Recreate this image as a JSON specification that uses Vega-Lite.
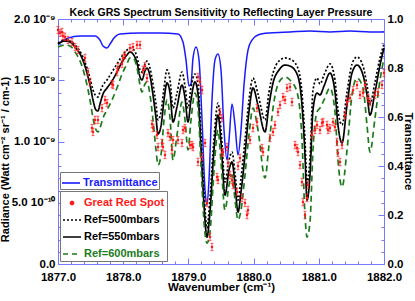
{
  "$schema": "https://vega.github.io/schema/vega-lite/v6.json",
  "width": 326,
  "height": 245,
  "autosize": "none",
  "padding": {"left": 58, "top": 19, "right": 31, "bottom": 37},
  "background": "white",
  "config": {
    "font": "Liberation Sans",
    "view": {"stroke": null},
    "axis": {
      "domainColor": "#7878ff", "tickColor": "#7878ff", "domainWidth": 1, "tickWidth": 1,
      "labelFont": "Liberation Sans", "labelFontWeight": "bold", "labelFontSize": 11.5, "labelColor": "black",
      "titleFont": "Liberation Sans", "titleFontWeight": "bold", "titleFontSize": 11.5, "titleColor": "black",
      "grid": false, "labelFlush": false, "labelOverlap": false, "labelBound": false
    }
  },
  "title": {"text": "Keck GRS Spectrum Sensitivity to Reflecting Layer Pressure", "font": "Liberation Sans", "fontSize": 10.5, "fontWeight": "bold", "color": "black", "offset": -5},
  "datasets": {
    "trans": [
      {"wn": 1877.000, "T": 0.898}, {"wn": 1877.153, "T": 0.922}, {"wn": 1877.337, "T": 0.931}, {"wn": 1877.567, "T": 0.931},
      {"wn": 1877.644, "T": 0.914}, {"wn": 1877.690, "T": 0.890}, {"wn": 1877.752, "T": 0.882}, {"wn": 1877.798, "T": 0.898},
      {"wn": 1877.859, "T": 0.922}, {"wn": 1877.951, "T": 0.939}, {"wn": 1878.258, "T": 0.943}, {"wn": 1878.565, "T": 0.943},
      {"wn": 1878.840, "T": 0.939}, {"wn": 1878.917, "T": 0.906}, {"wn": 1878.963, "T": 0.833}, {"wn": 1879.009, "T": 0.727},
      {"wn": 1879.040, "T": 0.735}, {"wn": 1879.071, "T": 0.841}, {"wn": 1879.117, "T": 0.886}, {"wn": 1879.163, "T": 0.833},
      {"wn": 1879.209, "T": 0.588}, {"wn": 1879.255, "T": 0.302}, {"wn": 1879.285, "T": 0.241}, {"wn": 1879.316, "T": 0.343},
      {"wn": 1879.362, "T": 0.669}, {"wn": 1879.408, "T": 0.833}, {"wn": 1879.454, "T": 0.857}, {"wn": 1879.500, "T": 0.792},
      {"wn": 1879.546, "T": 0.547}, {"wn": 1879.592, "T": 0.424}, {"wn": 1879.623, "T": 0.506}, {"wn": 1879.669, "T": 0.653},
      {"wn": 1879.715, "T": 0.567}, {"wn": 1879.761, "T": 0.445}, {"wn": 1879.807, "T": 0.547}, {"wn": 1879.853, "T": 0.731},
      {"wn": 1879.914, "T": 0.873}, {"wn": 1879.975, "T": 0.914}, {"wn": 1880.067, "T": 0.935}, {"wn": 1880.252, "T": 0.943},
      {"wn": 1880.558, "T": 0.947}, {"wn": 1880.865, "T": 0.951}, {"wn": 1881.172, "T": 0.947}, {"wn": 1881.479, "T": 0.951},
      {"wn": 1881.785, "T": 0.947}, {"wn": 1882.000, "T": 0.947}
    ],
    "models": [
      {"wn": 1877.000, "Ref=500mbars": 1.804e-9, "Ref=550mbars": 1.796e-9, "Ref=600mbars": 1.771e-9},
      {"wn": 1877.107, "Ref=500mbars": 1.829e-9, "Ref=550mbars": 1.820e-9, "Ref=600mbars": 1.788e-9},
      {"wn": 1877.184, "Ref=500mbars": 1.820e-9, "Ref=550mbars": 1.812e-9, "Ref=600mbars": 1.780e-9},
      {"wn": 1877.261, "Ref=500mbars": 1.788e-9, "Ref=550mbars": 1.771e-9, "Ref=600mbars": 1.731e-9},
      {"wn": 1877.368, "Ref=500mbars": 1.706e-9, "Ref=550mbars": 1.682e-9, "Ref=600mbars": 1.616e-9},
      {"wn": 1877.445, "Ref=500mbars": 1.600e-9, "Ref=550mbars": 1.559e-9, "Ref=600mbars": 1.461e-9},
      {"wn": 1877.491, "Ref=500mbars": 1.518e-9, "Ref=550mbars": 1.461e-9, "Ref=600mbars": 1.339e-9},
      {"wn": 1877.537, "Ref=500mbars": 1.420e-9, "Ref=550mbars": 1.339e-9, "Ref=600mbars": 1.192e-9},
      {"wn": 1877.583, "Ref=500mbars": 1.371e-9, "Ref=550mbars": 1.257e-9, "Ref=600mbars": 1.094e-9},
      {"wn": 1877.613, "Ref=500mbars": 1.363e-9, "Ref=550mbars": 1.249e-9, "Ref=600mbars": 1.078e-9},
      {"wn": 1877.644, "Ref=500mbars": 1.404e-9, "Ref=550mbars": 1.306e-9, "Ref=600mbars": 1.110e-9},
      {"wn": 1877.690, "Ref=500mbars": 1.461e-9, "Ref=550mbars": 1.388e-9, "Ref=600mbars": 1.192e-9},
      {"wn": 1877.752, "Ref=500mbars": 1.502e-9, "Ref=550mbars": 1.437e-9, "Ref=600mbars": 1.257e-9},
      {"wn": 1877.828, "Ref=500mbars": 1.567e-9, "Ref=550mbars": 1.494e-9, "Ref=600mbars": 1.339e-9},
      {"wn": 1877.905, "Ref=500mbars": 1.633e-9, "Ref=550mbars": 1.567e-9, "Ref=600mbars": 1.437e-9},
      {"wn": 1877.982, "Ref=500mbars": 1.698e-9, "Ref=550mbars": 1.649e-9, "Ref=600mbars": 1.551e-9},
      {"wn": 1878.058, "Ref=500mbars": 1.747e-9, "Ref=550mbars": 1.706e-9, "Ref=600mbars": 1.633e-9},
      {"wn": 1878.104, "Ref=500mbars": 1.763e-9, "Ref=550mbars": 1.731e-9, "Ref=600mbars": 1.682e-9},
      {"wn": 1878.150, "Ref=500mbars": 1.755e-9, "Ref=550mbars": 1.714e-9, "Ref=600mbars": 1.682e-9},
      {"wn": 1878.212, "Ref=500mbars": 1.690e-9, "Ref=550mbars": 1.641e-9, "Ref=600mbars": 1.600e-9},
      {"wn": 1878.258, "Ref=500mbars": 1.584e-9, "Ref=550mbars": 1.527e-9, "Ref=600mbars": 1.461e-9},
      {"wn": 1878.288, "Ref=500mbars": 1.567e-9, "Ref=550mbars": 1.502e-9, "Ref=600mbars": 1.404e-9},
      {"wn": 1878.334, "Ref=500mbars": 1.633e-9, "Ref=550mbars": 1.576e-9, "Ref=600mbars": 1.469e-9},
      {"wn": 1878.365, "Ref=500mbars": 1.657e-9, "Ref=550mbars": 1.600e-9, "Ref=600mbars": 1.486e-9},
      {"wn": 1878.411, "Ref=500mbars": 1.600e-9, "Ref=550mbars": 1.535e-9, "Ref=600mbars": 1.380e-9},
      {"wn": 1878.457, "Ref=500mbars": 1.469e-9, "Ref=550mbars": 1.380e-9, "Ref=600mbars": 1.176e-9},
      {"wn": 1878.503, "Ref=500mbars": 1.306e-9, "Ref=550mbars": 1.192e-9, "Ref=600mbars": 0.931e-9},
      {"wn": 1878.534, "Ref=500mbars": 1.176e-9, "Ref=550mbars": 1.061e-9, "Ref=600mbars": 0.808e-9},
      {"wn": 1878.580, "Ref=500mbars": 1.241e-9, "Ref=550mbars": 1.127e-9, "Ref=600mbars": 0.890e-9},
      {"wn": 1878.626, "Ref=500mbars": 1.437e-9, "Ref=550mbars": 1.339e-9, "Ref=600mbars": 1.176e-9},
      {"wn": 1878.672, "Ref=500mbars": 1.584e-9, "Ref=550mbars": 1.478e-9, "Ref=600mbars": 1.339e-9},
      {"wn": 1878.718, "Ref=500mbars": 1.502e-9, "Ref=550mbars": 1.396e-9, "Ref=600mbars": 1.192e-9},
      {"wn": 1878.764, "Ref=500mbars": 1.273e-9, "Ref=550mbars": 1.159e-9, "Ref=600mbars": 0.849e-9},
      {"wn": 1878.825, "Ref=500mbars": 1.396e-9, "Ref=550mbars": 1.282e-9, "Ref=600mbars": 1.053e-9},
      {"wn": 1878.902, "Ref=500mbars": 1.567e-9, "Ref=550mbars": 1.461e-9, "Ref=600mbars": 1.322e-9},
      {"wn": 1878.948, "Ref=500mbars": 1.453e-9, "Ref=550mbars": 1.355e-9, "Ref=600mbars": 1.176e-9},
      {"wn": 1878.994, "Ref=500mbars": 1.273e-9, "Ref=550mbars": 1.159e-9, "Ref=600mbars": 0.931e-9},
      {"wn": 1879.040, "Ref=500mbars": 1.445e-9, "Ref=550mbars": 1.339e-9, "Ref=600mbars": 1.176e-9},
      {"wn": 1879.101, "Ref=500mbars": 1.551e-9, "Ref=550mbars": 1.486e-9, "Ref=600mbars": 1.396e-9},
      {"wn": 1879.147, "Ref=500mbars": 1.469e-9, "Ref=550mbars": 1.388e-9, "Ref=600mbars": 1.273e-9},
      {"wn": 1879.193, "Ref=500mbars": 1.053e-9, "Ref=550mbars": 0.947e-9, "Ref=600mbars": 0.808e-9},
      {"wn": 1879.239, "Ref=500mbars": 0.588e-9, "Ref=550mbars": 0.482e-9, "Ref=600mbars": 0.343e-9},
      {"wn": 1879.285, "Ref=500mbars": 0.294e-9, "Ref=550mbars": 0.220e-9, "Ref=600mbars": 0.171e-9},
      {"wn": 1879.331, "Ref=500mbars": 0.539e-9, "Ref=550mbars": 0.424e-9, "Ref=600mbars": 0.261e-9},
      {"wn": 1879.393, "Ref=500mbars": 1.029e-9, "Ref=550mbars": 0.931e-9, "Ref=600mbars": 0.767e-9},
      {"wn": 1879.454, "Ref=500mbars": 1.314e-9, "Ref=550mbars": 1.216e-9, "Ref=600mbars": 1.094e-9},
      {"wn": 1879.500, "Ref=500mbars": 1.094e-9, "Ref=550mbars": 0.996e-9, "Ref=600mbars": 0.833e-9},
      {"wn": 1879.561, "Ref=500mbars": 0.669e-9, "Ref=550mbars": 0.563e-9, "Ref=600mbars": 0.441e-9},
      {"wn": 1879.623, "Ref=500mbars": 0.849e-9, "Ref=550mbars": 0.767e-9, "Ref=600mbars": 0.645e-9},
      {"wn": 1879.669, "Ref=500mbars": 0.914e-9, "Ref=550mbars": 0.833e-9, "Ref=600mbars": 0.727e-9},
      {"wn": 1879.715, "Ref=500mbars": 0.743e-9, "Ref=550mbars": 0.645e-9, "Ref=600mbars": 0.522e-9},
      {"wn": 1879.761, "Ref=500mbars": 0.522e-9, "Ref=550mbars": 0.424e-9, "Ref=600mbars": 0.359e-9},
      {"wn": 1879.807, "Ref=500mbars": 0.702e-9, "Ref=550mbars": 0.588e-9, "Ref=600mbars": 0.441e-9},
      {"wn": 1879.868, "Ref=500mbars": 1.012e-9, "Ref=550mbars": 0.890e-9, "Ref=600mbars": 0.727e-9},
      {"wn": 1879.929, "Ref=500mbars": 1.339e-9, "Ref=550mbars": 1.241e-9, "Ref=600mbars": 1.053e-9},
      {"wn": 1879.991, "Ref=500mbars": 1.518e-9, "Ref=550mbars": 1.437e-9, "Ref=600mbars": 1.273e-9},
      {"wn": 1880.067, "Ref=500mbars": 1.388e-9, "Ref=550mbars": 1.298e-9, "Ref=600mbars": 1.094e-9},
      {"wn": 1880.175, "Ref=500mbars": 1.176e-9, "Ref=550mbars": 1.078e-9, "Ref=600mbars": 0.702e-9},
      {"wn": 1880.236, "Ref=500mbars": 1.404e-9, "Ref=550mbars": 1.298e-9, "Ref=600mbars": 0.971e-9},
      {"wn": 1880.298, "Ref=500mbars": 1.559e-9, "Ref=550mbars": 1.478e-9, "Ref=600mbars": 1.273e-9},
      {"wn": 1880.390, "Ref=500mbars": 1.657e-9, "Ref=550mbars": 1.584e-9, "Ref=600mbars": 1.486e-9},
      {"wn": 1880.482, "Ref=500mbars": 1.682e-9, "Ref=550mbars": 1.624e-9, "Ref=600mbars": 1.527e-9},
      {"wn": 1880.558, "Ref=500mbars": 1.673e-9, "Ref=550mbars": 1.616e-9, "Ref=600mbars": 1.502e-9},
      {"wn": 1880.666, "Ref=500mbars": 1.616e-9, "Ref=550mbars": 1.551e-9, "Ref=600mbars": 1.404e-9},
      {"wn": 1880.742, "Ref=500mbars": 1.396e-9, "Ref=550mbars": 1.298e-9, "Ref=600mbars": 1.012e-9},
      {"wn": 1880.788, "Ref=500mbars": 1.012e-9, "Ref=550mbars": 0.890e-9, "Ref=600mbars": 0.400e-9},
      {"wn": 1880.819, "Ref=500mbars": 0.661e-9, "Ref=550mbars": 0.522e-9, "Ref=600mbars": 0.220e-9},
      {"wn": 1880.865, "Ref=500mbars": 0.865e-9, "Ref=550mbars": 0.727e-9, "Ref=600mbars": 0.343e-9},
      {"wn": 1880.911, "Ref=500mbars": 1.420e-9, "Ref=550mbars": 1.257e-9, "Ref=600mbars": 0.931e-9},
      {"wn": 1880.972, "Ref=500mbars": 1.518e-9, "Ref=550mbars": 1.396e-9, "Ref=600mbars": 1.241e-9},
      {"wn": 1881.018, "Ref=500mbars": 1.469e-9, "Ref=550mbars": 1.380e-9, "Ref=600mbars": 1.273e-9},
      {"wn": 1881.080, "Ref=500mbars": 1.543e-9, "Ref=550mbars": 1.453e-9, "Ref=600mbars": 1.339e-9},
      {"wn": 1881.172, "Ref=500mbars": 1.633e-9, "Ref=550mbars": 1.559e-9, "Ref=600mbars": 1.437e-9},
      {"wn": 1881.248, "Ref=500mbars": 1.502e-9, "Ref=550mbars": 1.404e-9, "Ref=600mbars": 1.241e-9},
      {"wn": 1881.294, "Ref=500mbars": 1.257e-9, "Ref=550mbars": 1.135e-9, "Ref=600mbars": 0.849e-9},
      {"wn": 1881.356, "Ref=500mbars": 1.135e-9, "Ref=550mbars": 0.988e-9, "Ref=600mbars": 0.629e-9},
      {"wn": 1881.433, "Ref=500mbars": 1.404e-9, "Ref=550mbars": 1.298e-9, "Ref=600mbars": 0.931e-9},
      {"wn": 1881.509, "Ref=500mbars": 1.633e-9, "Ref=550mbars": 1.559e-9, "Ref=600mbars": 1.380e-9},
      {"wn": 1881.586, "Ref=500mbars": 1.690e-9, "Ref=550mbars": 1.624e-9, "Ref=600mbars": 1.518e-9},
      {"wn": 1881.678, "Ref=500mbars": 1.616e-9, "Ref=550mbars": 1.543e-9, "Ref=600mbars": 1.437e-9},
      {"wn": 1881.739, "Ref=500mbars": 1.461e-9, "Ref=550mbars": 1.380e-9, "Ref=600mbars": 1.135e-9},
      {"wn": 1881.785, "Ref=500mbars": 1.306e-9, "Ref=550mbars": 1.216e-9, "Ref=600mbars": 0.914e-9},
      {"wn": 1881.862, "Ref=500mbars": 1.486e-9, "Ref=550mbars": 1.404e-9, "Ref=600mbars": 1.192e-9},
      {"wn": 1881.939, "Ref=500mbars": 1.682e-9, "Ref=550mbars": 1.624e-9, "Ref=600mbars": 1.502e-9},
      {"wn": 1882.000, "Ref=500mbars": 1.796e-9, "Ref=550mbars": 1.763e-9, "Ref=600mbars": 1.682e-9}
    ],
    "grs": [
      {"wn": 1877.000, "rad": 1.910e-9, "err": 0.03e-9}, {"wn": 1877.031, "rad": 1.886e-9, "err": 0.03e-9},
      {"wn": 1877.061, "rad": 1.894e-9, "err": 0.03e-9}, {"wn": 1877.077, "rad": 1.861e-9, "err": 0.03e-9},
      {"wn": 1877.107, "rad": 1.853e-9, "err": 0.03e-9}, {"wn": 1877.153, "rad": 1.829e-9, "err": 0.03e-9},
      {"wn": 1877.215, "rad": 1.812e-9, "err": 0.03e-9}, {"wn": 1877.261, "rad": 1.771e-9, "err": 0.03e-9},
      {"wn": 1877.307, "rad": 1.747e-9, "err": 0.03e-9}, {"wn": 1877.414, "rad": 1.682e-9, "err": 0.03e-9},
      {"wn": 1877.460, "rad": 1.567e-9, "err": 0.03e-9}, {"wn": 1877.491, "rad": 1.486e-9, "err": 0.03e-9},
      {"wn": 1877.521, "rad": 1.110e-9, "err": 0.03e-9}, {"wn": 1877.537, "rad": 1.078e-9, "err": 0.03e-9},
      {"wn": 1877.567, "rad": 1.176e-9, "err": 0.03e-9}, {"wn": 1877.613, "rad": 1.176e-9, "err": 0.03e-9},
      {"wn": 1877.675, "rad": 1.273e-9, "err": 0.03e-9}, {"wn": 1877.721, "rad": 1.339e-9, "err": 0.03e-9},
      {"wn": 1877.752, "rad": 1.314e-9, "err": 0.03e-9}, {"wn": 1877.828, "rad": 1.469e-9, "err": 0.03e-9},
      {"wn": 1877.844, "rad": 1.461e-9, "err": 0.03e-9}, {"wn": 1877.905, "rad": 1.567e-9, "err": 0.03e-9},
      {"wn": 1877.920, "rad": 1.608e-9, "err": 0.03e-9}, {"wn": 1877.982, "rad": 1.633e-9, "err": 0.03e-9},
      {"wn": 1877.997, "rad": 1.682e-9, "err": 0.03e-9}, {"wn": 1878.028, "rad": 1.706e-9, "err": 0.03e-9},
      {"wn": 1878.104, "rad": 1.763e-9, "err": 0.03e-9}, {"wn": 1878.150, "rad": 1.771e-9, "err": 0.03e-9},
      {"wn": 1878.212, "rad": 1.788e-9, "err": 0.03e-9}, {"wn": 1878.258, "rad": 1.788e-9, "err": 0.03e-9},
      {"wn": 1878.304, "rad": 1.584e-9, "err": 0.03e-9}, {"wn": 1878.334, "rad": 1.616e-9, "err": 0.03e-9},
      {"wn": 1878.365, "rad": 1.518e-9, "err": 0.03e-9}, {"wn": 1878.442, "rad": 1.143e-9, "err": 0.03e-9},
      {"wn": 1878.457, "rad": 1.110e-9, "err": 0.03e-9}, {"wn": 1878.518, "rad": 1.053e-9, "err": 0.03e-9},
      {"wn": 1878.534, "rad": 0.955e-9, "err": 0.03e-9}, {"wn": 1878.595, "rad": 0.988e-9, "err": 0.03e-9},
      {"wn": 1878.610, "rad": 0.955e-9, "err": 0.03e-9}, {"wn": 1878.641, "rad": 0.890e-9, "err": 0.03e-9},
      {"wn": 1878.687, "rad": 1.069e-9, "err": 0.03e-9}, {"wn": 1878.718, "rad": 1.037e-9, "err": 0.03e-9},
      {"wn": 1878.748, "rad": 0.931e-9, "err": 0.03e-9}, {"wn": 1878.764, "rad": 1.012e-9, "err": 0.03e-9},
      {"wn": 1878.840, "rad": 1.012e-9, "err": 0.03e-9}, {"wn": 1878.902, "rad": 0.988e-9, "err": 0.03e-9},
      {"wn": 1878.917, "rad": 1.094e-9, "err": 0.03e-9}, {"wn": 1878.948, "rad": 1.110e-9, "err": 0.03e-9},
      {"wn": 1879.025, "rad": 0.971e-9, "err": 0.03e-9}, {"wn": 1879.055, "rad": 0.971e-9, "err": 0.03e-9},
      {"wn": 1879.071, "rad": 0.955e-9, "err": 0.03e-9}, {"wn": 1879.147, "rad": 1.527e-9, "err": 0.03e-9},
      {"wn": 1879.178, "rad": 1.486e-9, "err": 0.03e-9}, {"wn": 1879.209, "rad": 1.420e-9, "err": 0.03e-9},
      {"wn": 1879.147, "rad": 0.833e-9, "err": 0.03e-9}, {"wn": 1879.209, "rad": 0.873e-9, "err": 0.03e-9},
      {"wn": 1879.255, "rad": 0.988e-9, "err": 0.03e-9}, {"wn": 1879.285, "rad": 0.498e-9, "err": 0.03e-9},
      {"wn": 1879.331, "rad": 0.220e-9, "err": 0.03e-9}, {"wn": 1879.362, "rad": 0.139e-9, "err": 0.03e-9},
      {"wn": 1879.439, "rad": 0.710e-9, "err": 0.03e-9}, {"wn": 1879.454, "rad": 0.686e-9, "err": 0.03e-9},
      {"wn": 1879.485, "rad": 1.241e-9, "err": 0.03e-9}, {"wn": 1879.515, "rad": 1.192e-9, "err": 0.03e-9},
      {"wn": 1879.515, "rad": 0.906e-9, "err": 0.03e-9}, {"wn": 1879.531, "rad": 0.914e-9, "err": 0.03e-9},
      {"wn": 1879.592, "rad": 0.955e-9, "err": 0.03e-9}, {"wn": 1879.607, "rad": 0.824e-9, "err": 0.03e-9},
      {"wn": 1879.638, "rad": 0.727e-9, "err": 0.03e-9}, {"wn": 1879.669, "rad": 0.686e-9, "err": 0.03e-9},
      {"wn": 1879.684, "rad": 0.645e-9, "err": 0.03e-9}, {"wn": 1879.745, "rad": 0.588e-9, "err": 0.03e-9},
      {"wn": 1879.761, "rad": 0.800e-9, "err": 0.03e-9}, {"wn": 1879.791, "rad": 0.865e-9, "err": 0.03e-9},
      {"wn": 1879.822, "rad": 0.539e-9, "err": 0.03e-9}, {"wn": 1879.868, "rad": 0.498e-9, "err": 0.03e-9},
      {"wn": 1879.899, "rad": 0.400e-9, "err": 0.03e-9}, {"wn": 1879.914, "rad": 0.441e-9, "err": 0.03e-9},
      {"wn": 1879.945, "rad": 1.012e-9, "err": 0.03e-9}, {"wn": 1879.991, "rad": 1.110e-9, "err": 0.03e-9},
      {"wn": 1880.052, "rad": 1.159e-9, "err": 0.03e-9}, {"wn": 1880.052, "rad": 1.273e-9, "err": 0.03e-9},
      {"wn": 1880.129, "rad": 0.947e-9, "err": 0.03e-9}, {"wn": 1880.144, "rad": 0.914e-9, "err": 0.03e-9},
      {"wn": 1880.252, "rad": 1.029e-9, "err": 0.03e-9}, {"wn": 1880.298, "rad": 1.078e-9, "err": 0.03e-9},
      {"wn": 1880.328, "rad": 1.135e-9, "err": 0.03e-9}, {"wn": 1880.374, "rad": 1.241e-9, "err": 0.03e-9},
      {"wn": 1880.405, "rad": 1.298e-9, "err": 0.03e-9}, {"wn": 1880.451, "rad": 1.363e-9, "err": 0.03e-9},
      {"wn": 1880.482, "rad": 1.339e-9, "err": 0.03e-9}, {"wn": 1880.512, "rad": 1.437e-9, "err": 0.03e-9},
      {"wn": 1880.558, "rad": 1.445e-9, "err": 0.03e-9}, {"wn": 1880.589, "rad": 1.322e-9, "err": 0.03e-9},
      {"wn": 1880.635, "rad": 0.971e-9, "err": 0.03e-9}, {"wn": 1880.666, "rad": 0.947e-9, "err": 0.03e-9},
      {"wn": 1880.681, "rad": 0.914e-9, "err": 0.03e-9}, {"wn": 1880.712, "rad": 0.808e-9, "err": 0.03e-9},
      {"wn": 1880.742, "rad": 0.669e-9, "err": 0.03e-9}, {"wn": 1880.758, "rad": 0.506e-9, "err": 0.03e-9},
      {"wn": 1880.788, "rad": 0.400e-9, "err": 0.03e-9}, {"wn": 1880.819, "rad": 0.539e-9, "err": 0.03e-9},
      {"wn": 1880.834, "rad": 0.645e-9, "err": 0.03e-9}, {"wn": 1880.896, "rad": 1.053e-9, "err": 0.03e-9},
      {"wn": 1880.942, "rad": 1.094e-9, "err": 0.03e-9}, {"wn": 1880.972, "rad": 1.135e-9, "err": 0.03e-9},
      {"wn": 1881.018, "rad": 1.094e-9, "err": 0.03e-9}, {"wn": 1881.049, "rad": 1.151e-9, "err": 0.03e-9},
      {"wn": 1881.064, "rad": 1.159e-9, "err": 0.03e-9}, {"wn": 1881.126, "rad": 1.135e-9, "err": 0.03e-9},
      {"wn": 1881.141, "rad": 1.094e-9, "err": 0.03e-9}, {"wn": 1881.172, "rad": 1.110e-9, "err": 0.03e-9},
      {"wn": 1881.218, "rad": 1.159e-9, "err": 0.03e-9}, {"wn": 1881.248, "rad": 1.118e-9, "err": 0.03e-9},
      {"wn": 1881.279, "rad": 0.996e-9, "err": 0.03e-9}, {"wn": 1881.294, "rad": 0.906e-9, "err": 0.03e-9},
      {"wn": 1881.325, "rad": 0.833e-9, "err": 0.03e-9}, {"wn": 1881.356, "rad": 0.971e-9, "err": 0.03e-9},
      {"wn": 1881.402, "rad": 1.216e-9, "err": 0.03e-9}, {"wn": 1881.433, "rad": 1.322e-9, "err": 0.03e-9},
      {"wn": 1881.479, "rad": 1.355e-9, "err": 0.03e-9}, {"wn": 1881.525, "rad": 1.420e-9, "err": 0.03e-9},
      {"wn": 1881.586, "rad": 1.461e-9, "err": 0.03e-9}, {"wn": 1881.632, "rad": 1.380e-9, "err": 0.03e-9},
      {"wn": 1881.678, "rad": 1.396e-9, "err": 0.03e-9}, {"wn": 1881.709, "rad": 1.461e-9, "err": 0.03e-9},
      {"wn": 1881.755, "rad": 1.355e-9, "err": 0.03e-9}, {"wn": 1881.785, "rad": 1.322e-9, "err": 0.03e-9},
      {"wn": 1881.862, "rad": 1.380e-9, "err": 0.03e-9}, {"wn": 1881.908, "rad": 1.404e-9, "err": 0.03e-9},
      {"wn": 1881.969, "rad": 1.461e-9, "err": 0.03e-9}, {"wn": 1882.000, "rad": 1.559e-9, "err": 0.03e-9}
    ]
  },
  "layer": [
    {
      "data": {"name": "trans"},
      "mark": {"type": "line", "strokeWidth": 1.5, "interpolate": "monotone"},
      "encoding": {
        "x": {"field": "wn", "type": "quantitative", "scale": {"domain": [1877, 1882], "nice": false, "zero": false},
          "axis": {"orient": "top", "labels": false, "title": null, "labelOverlap": false,
            "values": [1877, 1877.2, 1877.4, 1877.6, 1877.8, 1878, 1878.2, 1878.4, 1878.6, 1878.8, 1879, 1879.2, 1879.4, 1879.6, 1879.8, 1880, 1880.2, 1880.4, 1880.6, 1880.8, 1881, 1881.2, 1881.4, 1881.6, 1881.8, 1882],
            "tickSize": {"condition": {"test": "abs(datum.value - round(datum.value)) < 1e-6", "value": -6}, "value": -3}}},
        "y": {"field": "T", "type": "quantitative", "scale": {"domain": [0, 1], "nice": false},
          "axis": {"orient": "right", "title": "Transmittance", "titlePadding": 0, "titleY": 132, "labelOverlap": false,
            "values": [0, 0.05, 0.1, 0.15, 0.2, 0.25, 0.3, 0.35, 0.4, 0.45, 0.5, 0.55, 0.6, 0.65, 0.7, 0.75, 0.8, 0.85, 0.9, 0.95, 1],
            "labelExpr": "abs(datum.value*5 - round(datum.value*5)) < 1e-6 ? format(datum.value, '.1f') : ''",
            "tickSize": {"condition": {"test": "abs(datum.value*5 - round(datum.value*5)) < 1e-6", "value": -6}, "value": -3},
            "labelPadding": 9}},
        "stroke": {"datum": "Transmittance", "scale": {"domain": ["Transmittance"], "range": ["#1a1aff"]},
          "legend": {"orient": "none", "legendX": 2, "legendY": 153, "title": null, "strokeColor": "#777777", "fillColor": "white",
            "padding": 1, "symbolType": "stroke", "symbolSize": 324, "symbolStrokeWidth": 1.6, "rowPadding": 0,
            "labelFont": "Liberation Sans", "labelFontSize": 11, "labelFontWeight": "bold", "labelColor": "#1a1aff", "labelOffset": 2}}
      }
    },
    {
      "encoding": {
        "x": {"field": "wn", "type": "quantitative", "scale": {"domain": [1877, 1882], "nice": false, "zero": false},
          "axis": {"orient": "bottom", "title": "Wavenumber (cm⁻¹)", "titlePadding": -4, "labelOverlap": false,
            "values": [1877, 1877.2, 1877.4, 1877.6, 1877.8, 1878, 1878.2, 1878.4, 1878.6, 1878.8, 1879, 1879.2, 1879.4, 1879.6, 1879.8, 1880, 1880.2, 1880.4, 1880.6, 1880.8, 1881, 1881.2, 1881.4, 1881.6, 1881.8, 1882],
            "labelExpr": "abs(datum.value - round(datum.value)) < 1e-6 ? format(datum.value, '.1f') : ''",
            "tickSize": {"condition": {"test": "abs(datum.value - round(datum.value)) < 1e-6", "value": -6}, "value": -3},
            "labelPadding": 13}},
        "y": {"field": "rad", "type": "quantitative", "scale": {"domain": [0, 2e-9], "nice": false},
          "axis": {"orient": "left", "title": "Radiance (Watt cm⁻² sr⁻¹ / cm-1)", "titleFontSize": 11, "titlePadding": 1, "titleY": 140, "labelOverlap": false,
            "values": [0, 1e-10, 2e-10, 3e-10, 4e-10, 5e-10, 6e-10, 7e-10, 8e-10, 9e-10, 1e-9, 1.1e-9, 1.2e-9, 1.3e-9, 1.4e-9, 1.5e-9, 1.6e-9, 1.7e-9, 1.8e-9, 1.9e-9, 2e-9],
            "labelExpr": "abs(datum.value - 2e-9) < 1e-12 ? '2.0 10⁻⁹' : abs(datum.value - 1.5e-9) < 1e-12 ? '1.5 10⁻⁹' : abs(datum.value - 1e-9) < 1e-12 ? '1.0 10⁻⁹' : abs(datum.value - 5e-10) < 1e-12 ? '5.0 10⁻¹⁰' : abs(datum.value) < 1e-12 ? '0.0' : ''",
            "tickSize": {"condition": {"test": "abs(datum.value/5e-10 - round(datum.value/5e-10)) < 1e-6", "value": -6}, "value": -3},
            "labelPadding": 9}}
      },
      "layer": [
        {
          "data": {"name": "models"},
          "transform": [{"fold": ["Ref=500mbars", "Ref=550mbars", "Ref=600mbars"], "as": ["series", "rad"]}],
          "mark": {"type": "line", "strokeWidth": 1.7, "interpolate": "monotone"},
          "encoding": {
            "color": {"field": "series", "type": "nominal",
              "scale": {"domain": ["Great Red Spot", "Ref=500mbars", "Ref=550mbars", "Ref=600mbars"], "range": ["#ff1a1a", "#000000", "#000000", "#1b7b1b"]},
              "legend": {"orient": "none", "legendX": 2, "legendY": 172, "title": null, "strokeColor": "#777777", "fillColor": "white",
                "padding": 2, "symbolType": "stroke", "symbolSize": 324, "symbolStrokeWidth": 1.6, "rowPadding": 2,
                "labelFont": "Liberation Sans", "labelFontSize": 11, "labelFontWeight": "bold", "labelOffset": 2,
                "encode": {
                  "symbols": {"update": {
                    "shape": {"signal": "datum.value === 'Great Red Spot' ? 'circle' : 'stroke'"},
                    "size": {"signal": "datum.value === 'Great Red Spot' ? 10 : 324"},
                    "fill": {"signal": "datum.value === 'Great Red Spot' ? '#ff1a1a' : 'transparent'"},
                    "stroke": {"signal": "datum.value === 'Great Red Spot' ? 'transparent' : datum.value === 'Ref=600mbars' ? '#1b7b1b' : '#000000'"},
                    "strokeDash": {"signal": "datum.value === 'Ref=500mbars' ? [2, 2] : datum.value === 'Ref=600mbars' ? [5, 4] : [1, 0]"}
                  }},
                  "labels": {"update": {"fill": {"signal": "datum.value === 'Great Red Spot' ? '#ff1a1a' : datum.value === 'Ref=600mbars' ? '#1b7b1b' : '#000000'"}}}
                }}},
            "strokeDash": {"field": "series", "type": "nominal",
              "scale": {"domain": ["Ref=500mbars", "Ref=550mbars", "Ref=600mbars"], "range": [[2, 2], [1, 0], [6, 4]]}, "legend": null}
          }
        },
        {
          "data": {"name": "grs"},
          "mark": {"type": "errorbar", "color": "#ff2020", "ticks": {"size": 3}, "rule": {"strokeWidth": 0.8}},
          "encoding": {
            "yError": {"field": "err"}
          }
        },
        {
          "data": {"name": "grs"},
          "mark": {"type": "point", "filled": true, "shape": "square", "size": 5, "opacity": 1},
          "encoding": {
            "color": {"datum": "Great Red Spot"}
          }
        }
      ]
    }
  ],
  "resolve": {"scale": {"x": "independent", "y": "independent"}}
}
